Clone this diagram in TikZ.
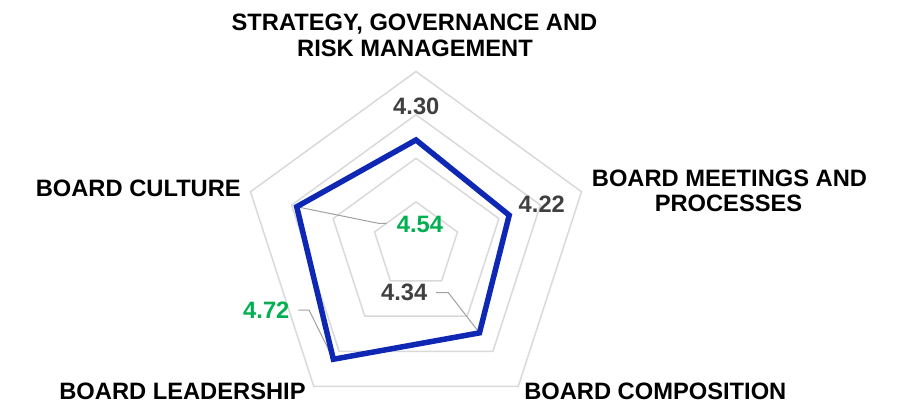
\documentclass[tikz,border=0pt]{standalone}
\usepackage{fontspec}
\setmainfont{Liberation Sans}
\definecolor{gridc}{RGB}{217,217,217}
\definecolor{seriec}{RGB}{14,40,180}
\definecolor{numgray}{RGB}{64,64,64}
\definecolor{numgreen}{RGB}{0,176,80}
\definecolor{leadc}{RGB}{160,160,160}
\begin{document}
\begin{tikzpicture}[x=1pt,y=-1pt,
  cat/.style={font=\fontsize{23.7}{26}\selectfont\bfseries, text=black, inner sep=0pt, anchor=base},
  val/.style={font=\fontsize{23.7}{26}\selectfont\bfseries, inner sep=0pt, anchor=base},
  gridline/.style={draw=gridc, line width=1.5pt, line join=miter},
  series/.style={draw=seriec, line width=5.5pt, line join=miter},
  leader/.style={draw=leadc, line width=1pt}]
\useasboundingbox (0,0) rectangle (902,403);
\coordinate (O) at (416,245.5);
% grid
\begin{scope}[shift={(O)}]
  \foreach \r in {43.6,87.2,130.8,174}{
    \draw[gridline] (-90:\r) -- (-18:\r) -- (54:\r) -- (126:\r) -- (-162:\r) -- cycle;
  }
  \coordinate (sT) at (-90:105.5);
  \coordinate (sR) at (-18:98);
  \coordinate (sBR) at (54:108);
  \coordinate (sBL) at (126:140.6);
  \coordinate (sL) at (-162:125.4);
\end{scope}
% leader bend points
\coordinate (b454a) at (378.3,223.3);
\coordinate (b454b) at (386.7,223.3);
\coordinate (b434a) at (436,292.7);
\coordinate (b434b) at (448.3,292.7);
\coordinate (b472a) at (298.3,310);
\coordinate (b472b) at (309,310);
\draw[leader] (sL) -- (b454a) -- (b454b);
\draw[leader] (b434a) -- (b434b) -- (sBR);
\draw[leader] (b472a) -- (b472b) -- (sBL);
% series
\draw[series] (sT) -- (sR) -- (sBR) -- (sBL) -- (sL) -- cycle;
% category labels
\node[cat] (strat1) at (414.5,31) {STRATEGY, GOVERNANCE AND};
\node[cat] (strat2) at (415,56.5) {RISK MANAGEMENT};
\node[cat] (meet1) at (729.5,186.7) {BOARD MEETINGS AND};
\node[cat] (meet2) at (728.5,211.7) {PROCESSES};
\node[cat] (cult) at (138.3,196.7) {BOARD CULTURE};
\node[cat] (lead) at (182.5,399.5) {BOARD LEADERSHIP};
\node[cat] (comp) at (655.3,399.5) {BOARD COMPOSITION};
% value labels
\node[val,text=numgray] (v430) at (416.3,115) {4.30};
\node[val,text=numgray] (v422) at (541.8,212.3) {4.22};
\node[val,text=numgreen] (v454) at (420,232.3) {4.54};
\node[val,text=numgray] (v434) at (404.2,300.7) {4.34};
\node[val,text=numgreen] (v472) at (266.3,319) {4.72};
\end{tikzpicture}
\end{document}
